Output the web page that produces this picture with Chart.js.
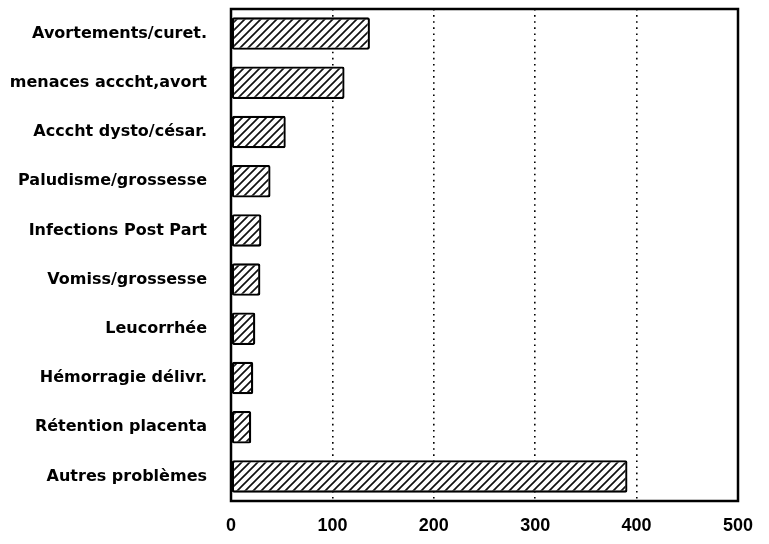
<!DOCTYPE html>
<html>
<head>
<meta charset="utf-8">
<script src="https://cdn.jsdelivr.net/npm/chart.js@4/dist/chart.umd.min.js"></script>
<style>
html,body{margin:0;padding:0;background:#fff;}
#wrap{width:769px;height:544px;}
</style>
</head>
<body>
<div id="wrap"><canvas id="c" width="769" height="544"></canvas></div>
<script>
const categories = [
  "Avortements/curet.",
  "menaces acccht,avort",
  "Acccht dysto/césar.",
  "Paludisme/grossesse",
  "Infections Post Part",
  "Vomiss/grossesse",
  "Leucorrhée",
  "Hémorragie délivr.",
  "Rétention placenta",
  "Autres problèmes"
];
const values = [137, 112, 54, 39, 30, 29, 24, 22, 20, 391];
const xTicks = [0, 100, 200, 300, 400, 500];

function hatch() {
  const s = 8;
  const p = document.createElement('canvas');
  p.width = s; p.height = s;
  const g = p.getContext('2d');
  g.fillStyle = '#fff';
  g.fillRect(0, 0, s, s);
  g.strokeStyle = '#111';
  g.lineWidth = 1.7;
  g.beginPath();
  g.moveTo(-1, s + 1); g.lineTo(s + 1, -1);
  g.moveTo(-1, 1); g.lineTo(1, -1);
  g.moveTo(s - 1, s + 1); g.lineTo(s + 1, s - 1);
  g.stroke();
  return g.createPattern(p, 'repeat');
}

const frame = {
  id: 'frame',
  afterDraw(chart) {
    const a = chart.chartArea, ctx = chart.ctx;
    ctx.save();
    ctx.strokeStyle = '#000';
    ctx.lineWidth = 2.5;
    ctx.strokeRect(a.left, a.top, a.right - a.left, a.bottom - a.top);
    ctx.restore();
  }
};

new Chart(document.getElementById('c'), {
  type: 'bar',
  data: {
    labels: categories,
    datasets: [{
      data: values,
      backgroundColor: hatch(),
      borderColor: '#000',
      borderWidth: 2.3,
      borderRadius: 2,
      borderSkipped: false,
      barPercentage: 0.66,
      categoryPercentage: 1.0
    }]
  },
  options: {
    indexAxis: 'y',
    responsive: false,
    animation: false,
    devicePixelRatio: 1,
    layout: { padding: { top: 9, right: 31, left: 0, bottom: 0 } },
    plugins: { legend: { display: false }, tooltip: { enabled: false } },
    scales: {
      x: {
        min: 0, max: 500,
        afterBuildTicks(axis) { axis.ticks = xTicks.map(v => ({ value: v })); },
        afterFit(axis) { axis.height = 43; },
        grid: {
          color: (c) => (c.tick && (c.tick.value === 0 || c.tick.value === 500)) ? 'rgba(0,0,0,0)' : '#000',
          lineWidth: 1.6,
          tickLength: 0,
          drawTicks: false
        },
        border: { display: false, dash: [1.6, 4.5] },
        ticks: {
          color: '#000',
          padding: 14,
          font: { family: "'Liberation Sans', Arial, sans-serif", size: 18, weight: 'bold' }
        }
      },
      y: {
        afterFit(axis) { axis.width = 231; axis.paddingTop = 0; axis.paddingBottom = 0; },
        grid: { display: false, drawTicks: false, tickLength: 0 },
        border: { display: false },
        ticks: {
          color: '#000',
          padding: 24,
          font: { family: "'DejaVu Sans', sans-serif", size: 16, weight: 'bold' }
        }
      }
    }
  },
  plugins: [frame]
});
</script>
</body>
</html>
